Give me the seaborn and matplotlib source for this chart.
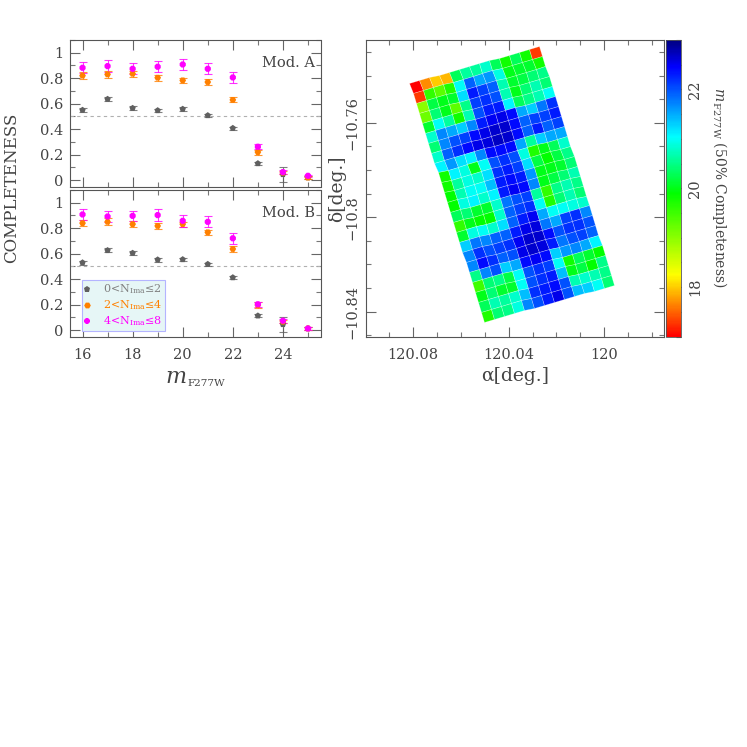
import numpy as np
import pandas as pd
import matplotlib
matplotlib.use("Agg")
import matplotlib.pyplot as plt
import seaborn as sns
from matplotlib.colors import LinearSegmentedColormap
from matplotlib.ticker import FixedLocator, MultipleLocator

sns.set_theme(style="ticks")
plt.rcParams["font.family"] = ["DejaVu Serif"]
plt.rcParams["mathtext.fontset"] = "dejavuserif"

# completeness curves
mags = [16, 17, 18, 19, 20, 21, 22, 23, 24, 25]
groups = ["0<N$_{\\rm Ima}$≤2$\\ \\ $", "2<N$_{\\rm Ima}$≤4$\\ \\ $", "4<N$_{\\rm Ima}$≤8$\\ \\ $"]

gray_a = [.55, .636, .565, .547, .558, .508, .408, .131, .045, .02]
orange_a = [.82, .83, .835, .804, .783, .77, .63, .22, .058, .02]
magenta_a = [.882, .895, .874, .89, .908, .874, .806, .262, .063, .034]
gray_b = [.53, .626, .605, .553, .555, .518, .413, .113, .045, .013]
orange_b = [.84, .85, .832, .818, .832, .768, .637, .197, .066, .013]
magenta_b = [.908, .892, .897, .903, .858, .85, .721, .203, .074, .013]

gray_err = [.015, .015, .015, .015, .015, .012, .012, .01, .06, .01]
orange_err = [.025, .028, .025, .025, .02, .02, .02, .02, .01, .01]
magenta_err = [.043, .045, .042, .045, .045, .043, .042, .02, .015, .01]

# 50% completeness map, 24 rows x 13 tiles
mag50_rows = [
    [17.0, 17.7, 18.0, 17.9, 20.3, 20.6, 20.6, 20.8, 20.3, 19.8, 20.3, 19.8, 17.3],
    [17.3, 19.6, 19.3, 19.7, 21.0, 21.9, 21.5, 21.6, 20.9, 20.0, 20.1, 20.1, 19.8],
    [19.0, 20.2, 20.0, 20.1, 21.2, 22.3, 22.1, 21.9, 20.7, 20.1, 20.2, 20.4, 20.5],
    [19.2, 20.4, 20.0, 19.3, 20.5, 22.1, 22.2, 22.0, 20.7, 20.0, 20.4, 20.7, 20.4],
    [20.1, 21.0, 20.6, 19.8, 20.7, 22.0, 22.3, 22.3, 21.1, 20.3, 20.5, 20.7, 21.0],
    [20.8, 21.7, 21.5, 21.3, 21.7, 22.3, 22.5, 22.55, 22.4, 21.5, 21.3, 21.8, 22.2],
    [20.4, 21.7, 22.0, 22.1, 22.4, 22.55, 22.65, 22.65, 22.4, 21.9, 22.1, 22.1, 22.3],
    [20.8, 21.9, 22.2, 22.4, 22.55, 22.6, 22.7, 22.65, 22.4, 21.9, 22.3, 21.9, 22.1],
    [21.1, 21.6, 21.2, 21.1, 21.7, 22.4, 22.4, 22.4, 21.5, 20.6, 21.3, 21.5, 21.5],
    [19.8, 21.1, 20.9, 20.0, 21.0, 22.0, 22.2, 22.0, 20.9, 19.7, 20.0, 20.3, 20.8],
    [19.8, 20.6, 20.9, 20.8, 21.2, 22.2, 22.3, 22.1, 21.2, 20.2, 19.9, 20.2, 20.5],
    [19.9, 20.7, 21.0, 21.0, 21.4, 22.3, 22.4, 22.3, 21.6, 20.0, 20.0, 20.1, 20.4],
    [19.9, 20.9, 21.1, 20.8, 21.1, 22.3, 22.5, 22.4, 21.7, 20.0, 20.2, 20.4, 20.7],
    [20.3, 20.4, 20.1, 20.1, 20.8, 21.8, 22.0, 22.1, 20.6, 19.6, 20.5, 20.7, 20.5],
    [19.6, 20.0, 19.9, 19.9, 20.8, 21.9, 22.1, 22.2, 21.0, 19.7, 20.4, 20.7, 20.4],
    [20.1, 20.9, 21.0, 20.8, 21.2, 21.9, 22.3, 22.5, 21.5, 21.0, 21.0, 20.9, 20.8],
    [21.3, 21.8, 21.7, 21.9, 21.9, 22.3, 22.55, 22.6, 21.8, 21.5, 22.1, 22.2, 21.7],
    [21.7, 22.2, 22.0, 22.1, 22.2, 22.5, 22.65, 22.65, 22.4, 22.0, 22.2, 22.2, 22.0],
    [21.7, 22.4, 22.2, 21.9, 22.0, 22.55, 22.65, 22.6, 22.3, 21.8, 22.0, 22.1, 21.9],
    [20.5, 21.7, 22.0, 21.3, 21.5, 22.4, 22.5, 22.4, 21.3, 21.6, 21.7, 21.5, 21.1],
    [19.5, 20.4, 20.5, 20.2, 21.0, 22.0, 22.2, 22.1, 21.0, 19.8, 20.3, 20.1, 19.9],
    [20.0, 20.4, 20.1, 20.1, 21.0, 22.0, 22.2, 22.3, 21.4, 20.0, 20.2, 19.9, 20.5],
    [20.3, 20.7, 20.6, 20.8, 21.4, 22.2, 22.3, 22.4, 22.0, 20.7, 20.8, 20.7, 20.5],
    [19.7, 20.4, 20.5, 20.9, 21.7, 22.0, 22.3, 22.55, 22.0, 21.4, 21.3, 21.0, 20.4],
]

# corners of the mosaic on the sky (ra, dec)
corner_tl = (120.0815, -10.7431)
corner_tr = (120.0272, -10.7276)
corner_bl = (120.0502, -10.8442)

colors = ["#606060", "#ff8000", "#ff00ff"]
markers = ["p", "H", "8"]
ink = "#444444"
W = 747.0


def pixel_axes(x0, y0, x1, y1):
    return fig.add_axes([x0 / W, 1 - y1 / W, (x1 - x0) / W, (y1 - y0) / W])


def style_axes(ax):
    for s in ax.spines.values():
        s.set_color("#555555")
        s.set_linewidth(0.8)
    ax.tick_params(which="major", direction="in", length=7.2, width=0.8, color="#666666",
                   top=True, right=True, labelsize=10.5, labelcolor=ink, pad=5)
    ax.tick_params(which="minor", direction="in", length=3.6, width=0.8, color="#777777",
                   top=True, right=True)
    ax.tick_params(axis="x", which="major", pad=8)


fig = plt.figure(figsize=(7.47, 7.47), dpi=100, facecolor="white")

ax_a = pixel_axes(70, 40, 320.5, 186.5)
ax_b = pixel_axes(70, 190, 320.5, 336.5)

panels = [
    (ax_a, [gray_a, orange_a, magenta_a], "Mod. A"),
    (ax_b, [gray_b, orange_b, magenta_b], "Mod. B"),
]
errs = [gray_err, orange_err, magenta_err]

for ax, series, name in panels:
    long_df = pd.concat(
        [pd.DataFrame({"mag": mags, "comp": vals, "group": groups[k]}) for k, vals in enumerate(series)]
    )
    ax.axhline(0.5, color="#b0b0b0", lw=0.8, ls=(0, (3, 3)), zorder=1)
    for k, vals in enumerate(series):
        ax.errorbar(mags, vals, yerr=errs[k], fmt="none", ecolor=colors[k], elinewidth=0.8,
                    capsize=3, capthick=0.8, alpha=0.8, zorder=2)
    sns.scatterplot(data=long_df, x="mag", y="comp", hue="group", style="group",
                    palette=colors, markers=markers, hue_order=groups, style_order=groups,
                    s=23, linewidth=0, ax=ax, legend=(name == "Mod. B"), zorder=3)
    ax.set_xlim(15.5, 25.5)
    ax.set_ylim(-0.05, 1.1)
    ax.xaxis.set_major_locator(MultipleLocator(2))
    ax.xaxis.set_minor_locator(MultipleLocator(1))
    ax.yaxis.set_minor_locator(MultipleLocator(0.1))
    ax.set_yticks([0, 0.2, 0.4, 0.6, 0.8, 1])
    ax.set_yticklabels(["0", "0.2", "0.4", "0.6", "0.8", "1"])
    ax.set_xlabel("")
    ax.set_ylabel("")
    style_axes(ax)
    ax.text(0.98, 0.84, name, transform=ax.transAxes, ha="right", va="center",
            fontsize=10.5, color=ink)

ax_a.tick_params(labelbottom=False)
fig.text(165 / W, 1 - 377 / W, "$m$", fontsize=16, color=ink, ha="left", va="center")
fig.text(187 / W, 1 - 383 / W, "F277W", fontsize=7.5, color=ink, ha="left", va="center")
fig.text(12 / W, 1 - 188 / W, "COMPLETENESS", rotation=90, ha="center", va="center",
         fontsize=12, color=ink)

# legend box in the lower panel
leg = ax_b.legend(loc="lower left", bbox_to_anchor=(12.3 / 250.5, 5.8 / 146.5), borderaxespad=0,
                  frameon=True, fancybox=False, facecolor="#e6f6f6", edgecolor="#b4b4ff",
                  framealpha=1, fontsize=8, labelspacing=0.2, handletextpad=1.27,
                  borderpad=0.2, handlelength=0.4)
leg.get_frame().set_linewidth(0.8)
for txt, c in zip(leg.get_texts(), colors):
    txt.set_color("#808080" if c == "#606060" else c)

# map of the 50% completeness magnitude
lut = LinearSegmentedColormap.from_list(
    "rainbow50",
    [(0, "#ff0000"), (0.207, "#ffff00"), (0.483, "#00ff00"), (0.673, "#00ffff"),
     (0.91, "#0000ff"), (1, "#000080")],
)
ax_map = pixel_axes(366, 40, 664, 336.5)
mag50 = np.array(mag50_rows)
nrow, ncol = mag50.shape
u, v = np.meshgrid(np.arange(ncol + 1) / ncol, np.arange(nrow + 1) / nrow)
ra = corner_tl[0] + u * (corner_tr[0] - corner_tl[0]) + v * (corner_bl[0] - corner_tl[0])
dec = corner_tl[1] + u * (corner_tr[1] - corner_tl[1]) + v * (corner_bl[1] - corner_tl[1])
mesh = ax_map.pcolormesh(ra, dec, mag50, cmap=lut, vmin=17, vmax=23,
                         edgecolors=(1, 1, 1, 0.4), linewidth=0.4, antialiased=True)
ax_map.set_xlim(120.0997, 119.975)
ax_map.set_ylim(-10.8505, -10.7249)
ax_map.set_xticks([120.08, 120.04, 120.0])
ax_map.set_xticklabels(["120.08", "120.04", "120"])
ax_map.xaxis.set_minor_locator(MultipleLocator(0.01))
ax_map.set_yticks([-10.84, -10.8, -10.76])
ax_map.set_yticklabels(["−10.84", "−10.8", "−10.76"], rotation=90, va="center")
ax_map.yaxis.set_minor_locator(MultipleLocator(0.01))
style_axes(ax_map)
ax_map.set_xlabel("α[deg.]", fontsize=13.5, color=ink, labelpad=4)
ax_map.set_ylabel("δ[deg.]", fontsize=13.5, color=ink, labelpad=-1)

cax = pixel_axes(666, 40, 681, 336.5)
cbar = fig.colorbar(mesh, cax=cax)
cbar.outline.set_edgecolor("#555555")
cbar.outline.set_linewidth(0.6)
cbar.set_ticks([18, 20, 22])
cax.yaxis.set_minor_locator(FixedLocator(np.arange(17, 23.01, 0.5)))
cax.tick_params(which="major", direction="in", length=7.2, width=0.8, color="#333333",
                labelsize=10.5, labelcolor=ink, pad=5)
cax.tick_params(which="minor", direction="in", length=3.6, width=0.8, color="#444444")
for lab in cax.get_yticklabels():
    lab.set_rotation(90)
    lab.set_va("center")
fig.text(720 / W, 1 - 187 / W, "$m_{\\,\\mathrm{F277W}}$ (50% Completeness)", rotation=270,
         ha="center", va="center", fontsize=10, color=ink)

fig.savefig("out.png", dpi=100, facecolor="white")
